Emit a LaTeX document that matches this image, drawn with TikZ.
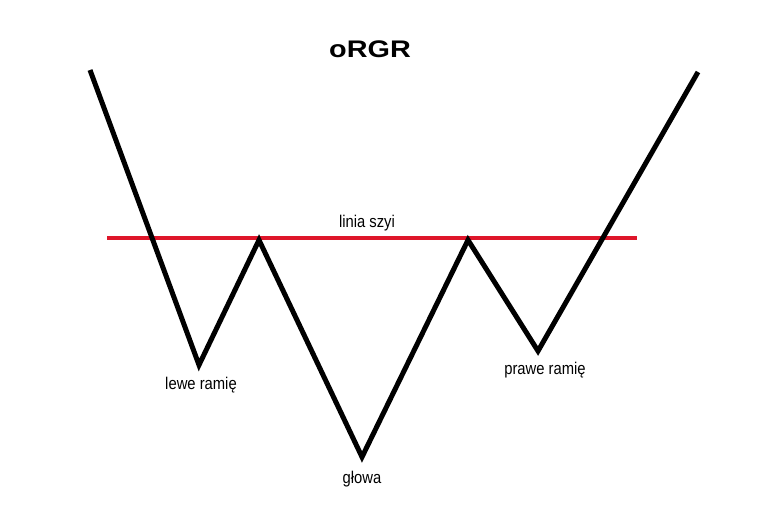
\documentclass[tikz,border=0pt]{standalone}
\usepackage{fontspec}
\setmainfont{Liberation Sans}
\newfontfamily\labelfont[FakeStretch=0.87]{Liberation Sans}
\newfontfamily\titlefont[FakeStretch=1.2]{Liberation Sans}
\definecolor{neckred}{RGB}{222,22,42}
\tikzset{
  price/.style={line width=5pt,black,line join=miter},
  neck/.style={line width=4pt,neckred},
  lbl/.style={anchor=base,inner sep=0pt,font=\labelfont\fontsize{17}{17}\selectfont},
}
\begin{document}
\begin{tikzpicture}[x=1pt,y=-1pt]
\useasboundingbox (0,0) rectangle (768,512);

% price path
\coordinate (start) at (90,70);
\coordinate (lsh) at (199,365);
\coordinate (lpk) at (259,240);
\coordinate (head) at (362,457);
\coordinate (rpk) at (468,240);
\coordinate (rsh) at (538,351);
\coordinate (end) at (698,72);

% neckline
\coordinate (nl) at (107,238);
\coordinate (nr) at (637,238);
\draw[neck] (nl) -- (nr);

\draw[price] (start) -- (lsh) -- (lpk) -- (head) -- (rpk) -- (rsh) -- (end);

\node[anchor=base,inner sep=0pt,font=\titlefont\bfseries\fontsize{24}{24}\selectfont] (title) at (370,57) {oRGR};
\node[lbl] (neckname) at (367,227) {linia szyi};
\node[lbl] (leftname) at (201,389) {lewe ramię};
\node[lbl] (headname) at (362,483) {głowa};
\node[lbl] (rightname) at (545,374) {prawe ramię};
\end{tikzpicture}
\end{document}
